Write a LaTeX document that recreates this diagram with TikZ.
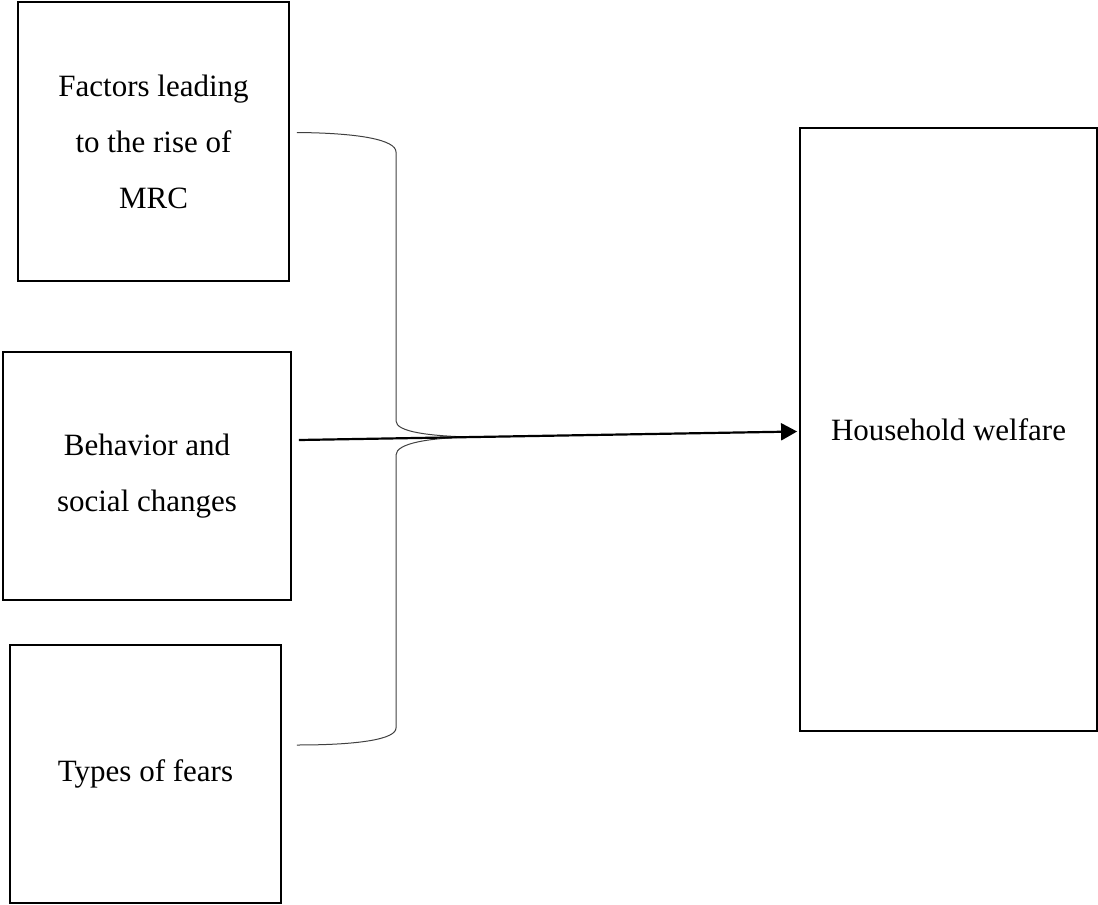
\documentclass[tikz,border=0pt]{standalone}
\usepackage{fontspec}
\setmainfont{Liberation Serif}
\usepackage{tikz}
\usetikzlibrary{positioning, arrows.meta, calc}

\begin{document}
\begin{tikzpicture}[
        x=1pt, y=1pt,
        factor/.style = {draw, line width=1.8pt, align=center, inner sep=0pt, font=\fontsize{31}{56}\selectfont},
        bracket/.style = {line width=1pt, black!75},
        link/.style = {line width=2.2pt, -{Triangle[length=16pt, width=17pt]}},
    ]
        \useasboundingbox (0,0) rectangle (1098,-905);

        \node[factor, minimum width=271pt, minimum height=279pt] (rise) at (153.5,-141.5) {Factors leading\\to the rise of\\MRC};
        \node[factor, minimum width=288pt, minimum height=248pt] (behav) at (147,-476) {Behavior and\\social changes};
        \node[factor, minimum width=271pt, minimum height=258pt] (fears) at (145.5,-774) {Types of fears};
        \node[factor, minimum width=297pt, minimum height=603pt] (welfare) at (948.5,-429.5) {Household welfare};

        % the bracket joining the three left boxes
        \coordinate (bktop) at ($(rise.east)+(7,9)$);
        \coordinate (bkbot) at ($(fears.east)+(15,29)$);
        \coordinate (bktip) at (470,-437);
        \draw[bracket] (bktop) .. controls (360,-133) and (396,-140) .. (396,-152) -- (396,-421)
            .. controls (396,-432) and (430,-436) .. (bktip)
            .. controls (430,-438) and (396,-443) .. (396,-455) -- (396,-728)
            .. controls (396,-739) and (360,-745) .. (bkbot);

        \coordinate (armstart) at ($(behav.east)+(7,36)$);
        \draw[link] (armstart) -- ($(welfare.west)+(-2,-2)$);
    \end{tikzpicture}
\end{document}
